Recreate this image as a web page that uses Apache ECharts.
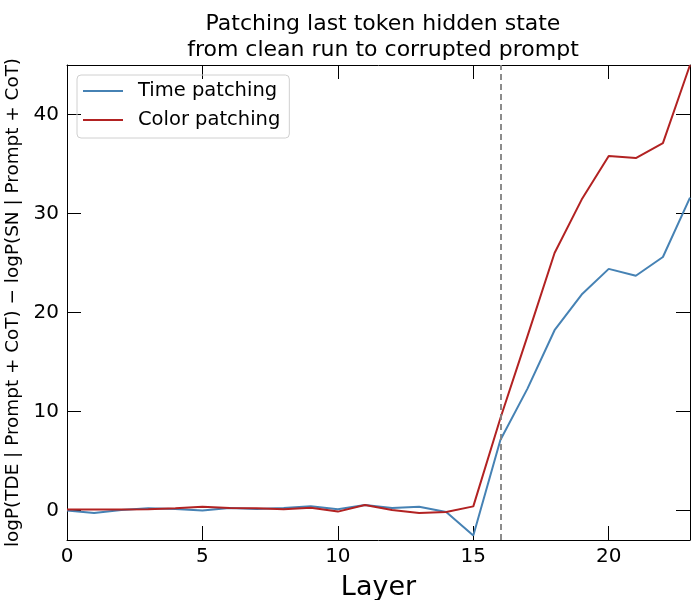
<!DOCTYPE html>
<html><head><meta charset="utf-8">
<script src="https://cdn.jsdelivr.net/npm/echarts@6/dist/echarts.min.js"></script>
<style>html,body{margin:0;padding:0;background:#fff}#c{width:700px;height:600px}</style>
</head><body><div id="c"></div>
<script>
const layers = [0,1,2,3,4,5,6,7,8,9,10,11,12,13,14,15,16,17,18,19,20,21,22,23];
const timePatching = [-0.03,-0.27,0.03,0.2,0.13,-0.03,0.24,0.13,0.24,0.4,0.1,0.54,0.24,0.37,-0.17,-2.55,7.1,12.3,18.2,21.8,24.4,23.7,25.6,31.6];
const colorPatching = [0.07,0.07,0.07,0.1,0.2,0.37,0.24,0.2,0.1,0.27,-0.13,0.54,0.03,-0.27,-0.17,0.4,9.3,17.6,26.0,31.4,35.8,35.6,37.1,45.0];
const xTicks = [0,5,10,15,20];
const yTicks = [0,10,20,30,40];
const markerLayer = 16;

const chart = echarts.init(document.getElementById('c'), null, {renderer:'canvas'});
const font = 'DejaVu Sans';
const axisBase = {
  axisLine:{show:true,onZero:false,lineStyle:{color:'#000',width:1}},
  splitLine:{show:false}
};
const tickStyle = {show:true,inside:true,length:14,lineStyle:{color:'#000',width:1}};
chart.setOption({
  animation:false,
  backgroundColor:'#fff',
  title:{
    text:'Patching last token hidden state\nfrom clean run to corrupted prompt',
    left:378, top:6, textAlign:'center',
    textStyle:{fontFamily:font,fontSize:22,fontWeight:'normal',color:'#000',lineHeight:26}
  },
  legend:{
    left:77, top:75, orient:'vertical',
    data:['Time patching','Color patching'],
    borderColor:'#d0d0d0', borderWidth:1, borderRadius:4,
    padding:[6,9,8,6], itemGap:9, itemWidth:40, itemHeight:2,
    icon:'rect',
    textStyle:{fontFamily:font,fontSize:19.5,color:'#000',padding:[0,0,0,10]}
  },
  grid:{left:67,right:10,top:65,bottom:60,containLabel:false,outerBoundsMode:'none'},
  xAxis:[
    Object.assign({}, axisBase, {type:'value',min:0,max:23,position:'bottom',
      name:'Layer',nameLocation:'middle',nameGap:34,
      nameTextStyle:{fontFamily:font,fontSize:27,color:'#000'},
      axisTick:Object.assign({customValues:xTicks},tickStyle),
      axisLabel:{fontFamily:font,fontSize:20,color:'#000',margin:7,customValues:xTicks}}),
    Object.assign({}, axisBase, {type:'value',min:0,max:23,position:'top',
      axisTick:Object.assign({customValues:xTicks},tickStyle),
      axisLabel:{show:false}})
  ],
  yAxis:[
    Object.assign({}, axisBase, {type:'value',min:-3,max:45,position:'left',
      name:'logP(TDE | Prompt + CoT) − logP(SN | Prompt + CoT)',nameLocation:'middle',nameGap:43,
      nameTextStyle:{fontFamily:font,fontSize:18.4,color:'#000'},
      axisTick:Object.assign({customValues:yTicks},tickStyle),
      axisLabel:{fontFamily:font,fontSize:20,color:'#000',margin:8,customValues:yTicks}}),
    Object.assign({}, axisBase, {type:'value',min:-3,max:45,position:'right',
      axisTick:Object.assign({customValues:yTicks},tickStyle),
      axisLabel:{show:false}})
  ],
  series:[
    {name:'Time patching',type:'line',showSymbol:false,
      data:layers.map((l,i)=>[l,timePatching[i]]),
      lineStyle:{color:'#4682b4',width:2},itemStyle:{color:'#4682b4'},
      markLine:{silent:true,symbol:['none','none'],label:{show:false},
        lineStyle:{color:'#808080',type:[6,4],width:1.8},
        data:[{xAxis:markerLayer}]}},
    {name:'Color patching',type:'line',showSymbol:false,
      data:layers.map((l,i)=>[l,colorPatching[i]]),
      lineStyle:{color:'#b22222',width:2},itemStyle:{color:'#b22222'}}
  ]
});
</script></body></html>
